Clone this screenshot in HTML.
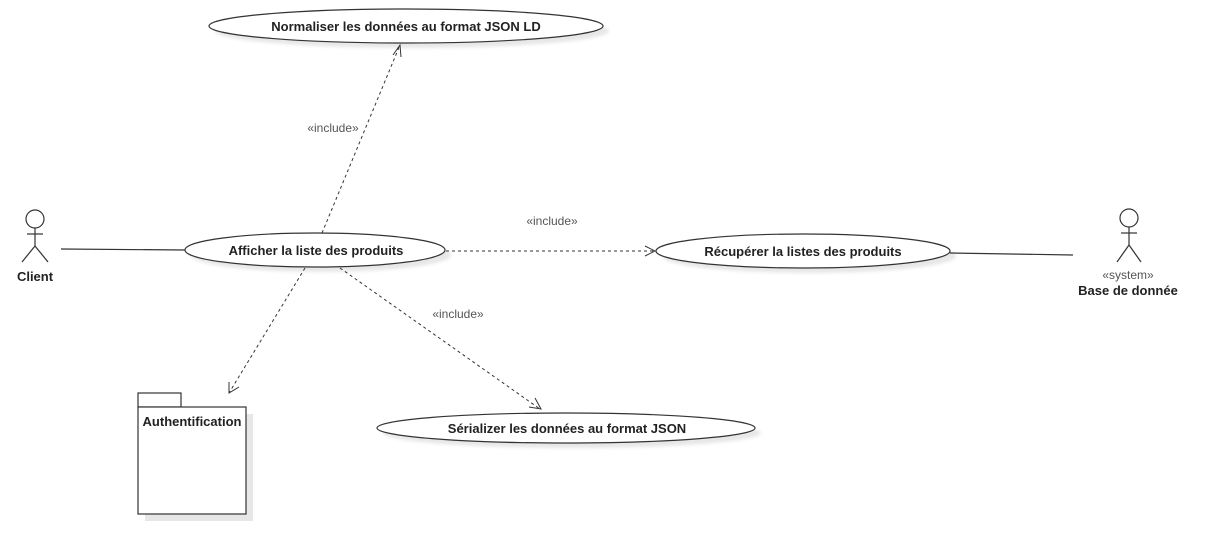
<!DOCTYPE html>
<html><head><meta charset="utf-8"><style>
html,body{margin:0;padding:0;background:#fff;width:1222px;height:554px;overflow:hidden}
text{font-family:"Liberation Sans",sans-serif;fill:#222}
</style></head><body>
<svg width="1222" height="554" xmlns="http://www.w3.org/2000/svg">
<defs><filter id="s" x="-10%" y="-10%" width="130%" height="150%"><feGaussianBlur stdDeviation="1.5"/></filter></defs>
<g fill="#ddd" opacity="0.7">
<ellipse cx="412" cy="31" rx="197" ry="17" filter="url(#s)"/>
<ellipse cx="321" cy="255" rx="130" ry="17" filter="url(#s)"/>
<ellipse cx="809" cy="256" rx="147" ry="17" filter="url(#s)"/>
<ellipse cx="572" cy="433" rx="189" ry="15" filter="url(#s)"/>
<rect x="145" y="414" width="108" height="107"/>
</g>
<g fill="#fff" stroke="#333" stroke-width="1.2">
<ellipse cx="406" cy="26" rx="197" ry="17"/>
<ellipse cx="315" cy="250" rx="130" ry="17"/>
<ellipse cx="803" cy="251" rx="147" ry="17"/>
<ellipse cx="566" cy="428" rx="189" ry="15"/>
<rect x="138" y="393" width="43" height="14"/>
<rect x="138" y="407" width="108" height="107"/>
</g>
<g stroke="#333" stroke-width="1.2" fill="none">
<line x1="61" y1="249" x2="185" y2="250"/>
<line x1="950" y1="253" x2="1073" y2="255"/>
<circle cx="35" cy="219" r="9" fill="#fff"/>
<line x1="35" y1="228" x2="35" y2="246"/><line x1="27" y1="234" x2="43" y2="234"/>
<line x1="35" y1="246" x2="22" y2="262"/><line x1="35" y1="246" x2="48" y2="262"/>
<circle cx="1129" cy="218" r="9" fill="#fff"/>
<line x1="1129" y1="227" x2="1129" y2="245"/><line x1="1121" y1="233" x2="1137" y2="233"/>
<line x1="1129" y1="245" x2="1117" y2="262"/><line x1="1129" y1="245" x2="1141" y2="262"/>
</g>
<g stroke="#333" stroke-width="1" fill="none" stroke-dasharray="3,3">
<line x1="322" y1="233" x2="400" y2="45"/>
<line x1="446" y1="251" x2="654" y2="251"/>
<line x1="340" y1="268" x2="540" y2="409"/>
<line x1="305" y1="268" x2="229" y2="393"/>
</g>
<g stroke="#333" stroke-width="1" fill="none">
<polyline points="393,55 400,45 401,57"/>
<polyline points="645,246 655,251 645,256"/>
<polyline points="529,407 541,409 535,398"/>
<polyline points="229,382 229,393 239,387"/>
</g>
<g font-size="13" font-weight="bold" text-anchor="middle">
<text x="406" y="31">Normaliser les données au format JSON LD</text>
<text x="316" y="255">Afficher la liste des produits</text>
<text x="803" y="256">Récupérer la listes des produits</text>
<text x="567" y="433">Sérializer les données au format JSON</text>
<text x="35" y="281">Client</text>
<text x="1128" y="295">Base de donnée</text>
<text x="192" y="426">Authentification</text>
</g>
<g font-size="12" text-anchor="middle">
<text x="333" y="132" style="fill:#555">«include»</text>
<text x="552" y="225" style="fill:#555">«include»</text>
<text x="458" y="318" style="fill:#555">«include»</text>
<text x="1128" y="279" style="fill:#555">«system»</text>
</g>
</svg>
</body></html>
